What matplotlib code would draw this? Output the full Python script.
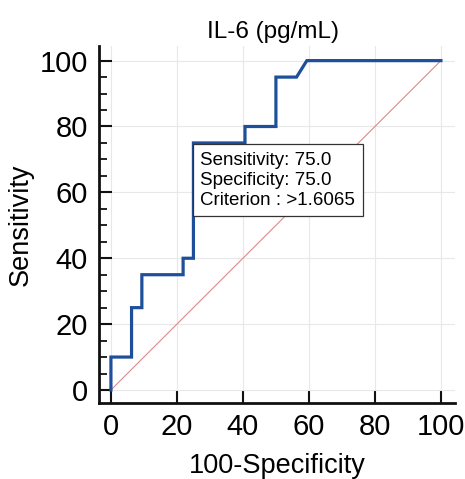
import matplotlib.pyplot as plt
from matplotlib.ticker import MultipleLocator

plt.rcParams['font.family'] = ['Liberation Sans', 'DejaVu Sans']

# ROC curve points (100-Specificity, Sensitivity)
fpr = [0, 0, 6.25, 6.25, 9.375, 9.375, 21.875, 21.875, 25, 25,
       40.625, 40.625, 50, 50, 56.25, 59.375, 100]
tpr = [0, 10, 10, 25, 25, 35, 35, 40, 40, 75,
       75, 80, 80, 95, 95, 100, 100]

# reference line
diag_x = [0, 100]
diag_y = [0, 100]

# criterion point and box text
crit_x, crit_y = 25, 75
box_lines = ["Sensitivity: 75.0", "Specificity: 75.0", "Criterion : >1.6065"]

ticks = [0, 20, 40, 60, 80, 100]

fig = plt.figure(figsize=(4.65, 4.79), dpi=100)
ax = fig.add_axes([0.213, 0.159, 0.765, 0.744])

ax.plot(diag_x, diag_y, color='#d98a90', lw=0.8, zorder=2)
ax.plot(fpr, tpr, color='#1d4f9a', lw=2.3, zorder=3, solid_joinstyle='miter')

ax.set_xlim(-3.6, 104.2)
ax.set_ylim(-3.9, 104.3)
ax.set_xticks(ticks)
ax.set_yticks(ticks)
ax.yaxis.set_minor_locator(MultipleLocator(5))
ax.grid(True, which='major', color='#e8e8e8', lw=0.8, zorder=0)
ax.set_axisbelow(True)

for s in ['top', 'right']:
    ax.spines[s].set_visible(False)
for s in ['left', 'bottom']:
    ax.spines[s].set_linewidth(2.0)
    ax.spines[s].set_color('#111111')

ax.tick_params(axis='y', which='major', direction='in', length=9.5, width=1.5,
               labelsize=21, pad=8, color='#111111')
ax.tick_params(axis='y', which='minor', direction='in', length=5.5, width=1.3,
               color='#111111')
ax.tick_params(axis='x', which='major', direction='in', length=9, width=1.5,
               labelsize=21, pad=7, color='#111111')

ax.set_xlabel('100-Specificity', fontsize=19.5, labelpad=9)
ax.set_ylabel('Sensitivity', fontsize=19.5, labelpad=4)
ax.set_title('IL-6 (pg/mL)', fontsize=17.5, pad=6, x=0.49)

ax.annotate('\n'.join(box_lines), xy=(crit_x, crit_y), xytext=(5, -6.5),
            textcoords='offset points', ha='left', va='top', fontsize=13.5,
            linespacing=1.22, zorder=5,
            bbox=dict(boxstyle='square,pad=0.4', fc='white', ec='#333333', lw=0.9))

fig.savefig('out.png', dpi=100)
